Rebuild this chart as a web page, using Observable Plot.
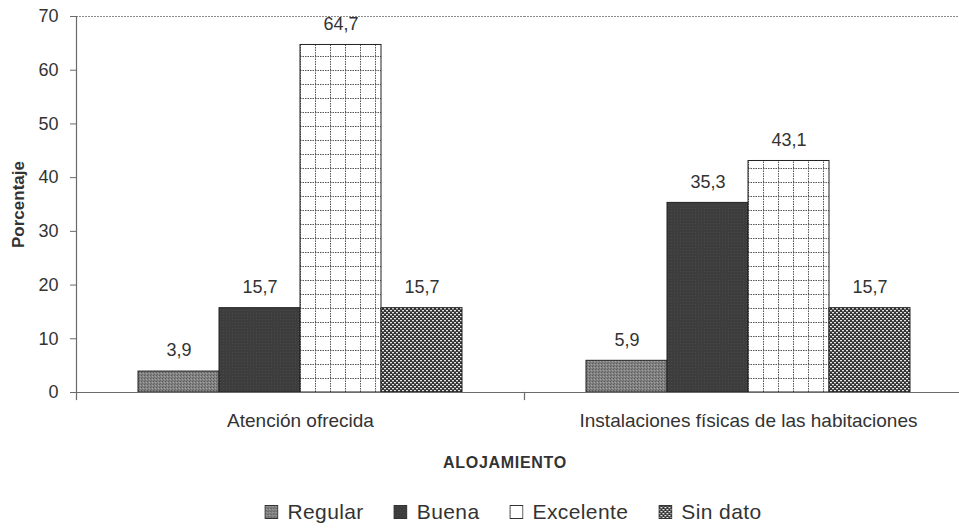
<!DOCTYPE html>
<html>
<head>
<meta charset="utf-8">
<script src="https://cdn.jsdelivr.net/npm/d3@7"></script>
<script src="https://cdn.jsdelivr.net/npm/@observablehq/plot@0.6"></script>
<style>
  html, body { margin: 0; padding: 0; background: #fff; overflow: hidden; }
  body { font-family: Arial, "Liberation Sans", sans-serif; color: #333; width: 959px; height: 532px; position: relative; }
  #title { position: absolute; top: 453px; left: 505px; transform: translateX(-50%); font-size: 16px; font-weight: bold; line-height: 20px; letter-spacing: 0.7px; white-space: nowrap; }
  #legend { position: absolute; top: 499px; left: 513px; transform: translateX(-50%); display: flex; align-items: center; gap: 30px; font-size: 21px; line-height: 26px; white-space: nowrap; letter-spacing: 0.4px; }
  #legend .item { display: flex; align-items: center; gap: 9px; }
  #legend svg { display: block; }
</style>
</head>
<body>
<svg width="0" height="0" style="position:absolute">
  <defs>
    <pattern id="pRegular" width="3" height="3" patternUnits="userSpaceOnUse">
      <rect width="3" height="3" fill="#828282"/>
      <rect x="0" y="0" width="1" height="1" fill="#5a5a5a"/>
      <rect x="2" y="1" width="1" height="1" fill="#a3a3a3"/>
      <rect x="1" y="2" width="1" height="1" fill="#6a6a6a"/>
    </pattern>
    <pattern id="pBuena" width="3" height="3" patternUnits="userSpaceOnUse">
      <rect width="3" height="3" fill="#3d3d3d"/>
      <rect x="1" y="1" width="1" height="1" fill="#4a4a4a"/>
    </pattern>
    <pattern id="pExcelente" width="15" height="14" patternUnits="userSpaceOnUse">
      <rect width="15" height="14" fill="#fff"/>
      <line x1="0" y1="0.5" x2="15" y2="0.5" stroke="#555" stroke-dasharray="1.5 1"/>
      <line x1="0.5" y1="0" x2="0.5" y2="14" stroke="#555" stroke-dasharray="1.5 1"/>
    </pattern>
    <pattern id="pSinDato" width="4" height="4" patternUnits="userSpaceOnUse">
      <rect width="4" height="4" fill="#333"/>
      <rect x="0" y="0" width="2" height="1.3" fill="#e6e6e6"/>
      <rect x="2" y="2" width="2" height="1.3" fill="#e6e6e6"/>
    </pattern>
  </defs>
</svg>
<div id="chart"></div>
<div id="title"></div>
<div id="legend"></div>
<script>
// ---- data ----
const groups = ["Atención ofrecida", "Instalaciones físicas de las habitaciones"];
const series = ["Regular", "Buena", "Excelente", "Sin dato"];
const atencionValues = [3.9, 15.7, 64.7, 15.7];
const instalacionesValues = [5.9, 35.3, 43.1, 15.7];
const yTicks = [0, 10, 20, 30, 40, 50, 60, 70];
const yLabel = "Porcentaje";
const xLabel = "ALOJAMIENTO";
const seriesFills = ["url(#pRegular)", "url(#pBuena)", "url(#pExcelente)", "url(#pSinDato)"];

const valuesByGroup = [atencionValues, instalacionesValues];
const rows = groups.flatMap((g, gi) => series.map((s, si) => ({group: g, series: s, value: valuesByGroup[gi][si]})));
const fmt = v => v.toFixed(1).replace(".", ",");

const chart = Plot.plot({
  width: 959,
  height: 440,
  marginLeft: 76,
  marginRight: -13,
  marginTop: 16,
  marginBottom: 48,
  style: {fontFamily: "Arial, 'Liberation Sans', sans-serif", fontSize: "18px", color: "#333", background: "transparent", overflow: "visible"},
  fx: {domain: groups, padding: 0, label: null},
  x: {domain: series, paddingInner: 0, paddingOuter: 0.765, axis: null},
  y: {domain: [0, 70], label: null},
  color: {domain: series, range: seriesFills},
  marks: [
    Plot.ruleY([70], {stroke: "#8a8a8a", strokeWidth: 1.2, strokeDasharray: "2 1"}),
    Plot.barY(rows, {fx: "group", x: "series", y: "value", fill: "series", stroke: "#222", strokeWidth: 1}),
    Plot.text(rows, {fx: "group", x: "series", y: "value", text: d => fmt(d.value), dy: -21, fill: "#333", fontSize: 18}),
    Plot.ruleY([0], {stroke: "#6a6a6a", strokeWidth: 1.2}),
    Plot.frame({anchor: "left", facetAnchor: "left", stroke: "#6a6a6a", strokeWidth: 1.2}),
    Plot.frame({anchor: "left", insetTop: 376, insetBottom: -7, stroke: "#6a6a6a", strokeWidth: 1.2}),
    Plot.axisY({ticks: yTicks, tickSize: 6, tickPadding: 12, fontSize: 18, label: null, stroke: "#6a6a6a"}),
    Plot.text([yLabel], {frameAnchor: "left", textAnchor: "middle", lineAnchor: "middle", rotate: -90, dx: -58, fontWeight: "bold", fontSize: 17, fill: "#333", facetAnchor: "left"}),
    Plot.axisFx({anchor: "bottom", tickSize: 0, tickPadding: 21, fontSize: 19, label: null, letterSpacing: 0.5})
  ]
});
document.getElementById("chart").appendChild(chart);

document.getElementById("title").textContent = xLabel;

const colorScale = chart.scale("color");
const legend = document.getElementById("legend");
series.forEach(s => {
  const item = document.createElement("div");
  item.className = "item";
  const ns = "http://www.w3.org/2000/svg";
  const sw = document.createElementNS(ns, "svg");
  sw.setAttribute("width", 14); sw.setAttribute("height", 14);
  const r = document.createElementNS(ns, "rect");
  r.setAttribute("x", 0.5); r.setAttribute("y", 0.5); r.setAttribute("width", 13); r.setAttribute("height", 13);
  r.setAttribute("fill", colorScale.apply(s)); r.setAttribute("stroke", "#333");
  sw.appendChild(r);
  const t = document.createElement("span");
  t.textContent = s;
  item.appendChild(sw); item.appendChild(t);
  legend.appendChild(item);
});
</script>
</body>
</html>
